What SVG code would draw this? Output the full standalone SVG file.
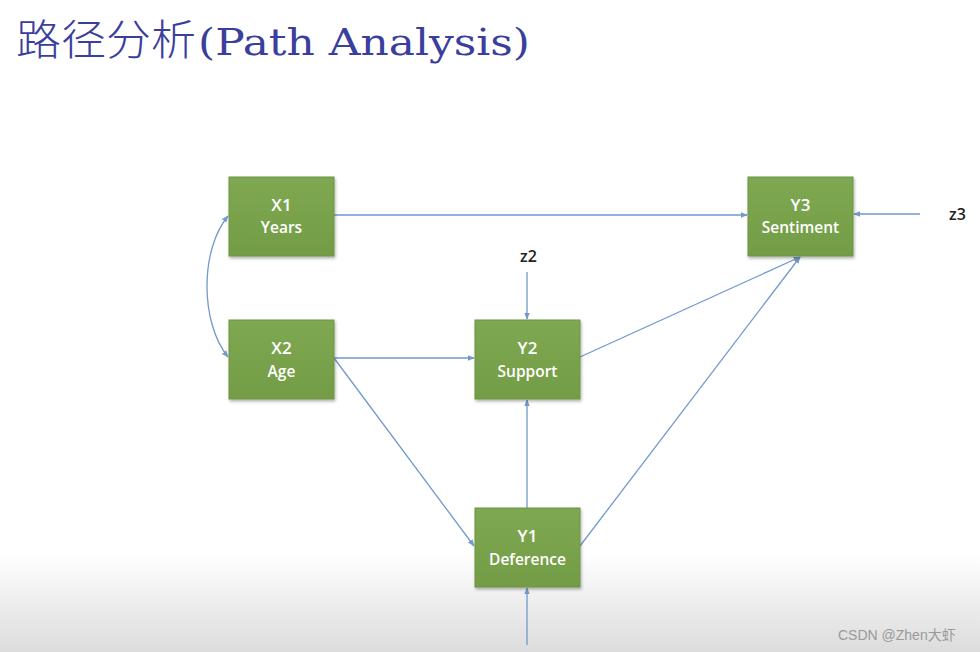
<svg xmlns="http://www.w3.org/2000/svg" width="980" height="652" viewBox="0 0 980 652">
<style>
.box{fill:url(#g);stroke:#6c9443;stroke-width:1}
.lbl{font-family:"Open Sans","Liberation Sans",sans-serif;font-weight:600;fill:#ffffff;text-anchor:middle}
.t1{font-size:17px}
.t2{font-size:15.5px}
.c{fill:none;stroke:#7199cc;stroke-width:1.3}
.z{font-family:"Open Sans","Liberation Sans",sans-serif;font-weight:600;font-size:16px;fill:#222}
</style>
<defs>
<linearGradient id="bg" x1="0" y1="0" x2="0" y2="1">
<stop offset="0" stop-color="#ffffff"/>
<stop offset="0.85" stop-color="#ffffff"/>
<stop offset="1" stop-color="#dcdcdc"/>
</linearGradient>
<linearGradient id="g" x1="0" y1="0" x2="0" y2="1">
<stop offset="0" stop-color="#7fa852"/>
<stop offset="1" stop-color="#739c46"/>
</linearGradient>
<filter id="sh" x="-10%" y="-10%" width="130%" height="130%">
<feDropShadow dx="1" dy="2" stdDeviation="1.5" flood-color="#000" flood-opacity="0.3"/>
</filter>
<marker id="a" viewBox="0 0 10 10" refX="9" refY="5" markerWidth="7" markerHeight="7" orient="auto-start-reverse" markerUnits="userSpaceOnUse">
<path d="M0,1 L10,5 L0,9 z" fill="#7199cc"/>
</marker>
</defs>
<rect x="0" y="0" width="980" height="652" fill="url(#bg)"/>
<text x="16" y="55" font-family="Noto Sans CJK SC,sans-serif" font-size="42" font-weight="300" fill="#3a3e9c" textLength="180" lengthAdjust="spacingAndGlyphs">路径分析</text>
<text x="198" y="55" font-family="DejaVu Serif,serif" font-size="38" fill="#3a3e9c" textLength="332" lengthAdjust="spacingAndGlyphs">(Path Analysis)</text>
<g id="connectors">
<line class="c" x1="334" y1="215" x2="747" y2="215" marker-end="url(#a)"/>
<line class="c" x1="920" y1="214" x2="854" y2="214" marker-end="url(#a)"/>
<line class="c" x1="527" y1="272" x2="527" y2="319" marker-end="url(#a)"/>
<line class="c" x1="334" y1="358" x2="474" y2="358" marker-end="url(#a)"/>
<line class="c" x1="334" y1="358" x2="474" y2="546" marker-end="url(#a)"/>
<line class="c" x1="527" y1="508" x2="527" y2="400" marker-end="url(#a)"/>
<line class="c" x1="580" y1="357" x2="800" y2="257" marker-end="url(#a)"/>
<line class="c" x1="580" y1="546" x2="800" y2="257" marker-end="url(#a)"/>
<line class="c" x1="527" y1="645" x2="527" y2="588" marker-end="url(#a)"/>
<path class="c" d="M228,216 C200,250 200,322 228,357" marker-start="url(#a)" marker-end="url(#a)"/>
</g>
<g id="X1"><rect class="box" x="229" y="177" width="105" height="79" filter="url(#sh)"/><text class="lbl t1" x="281.5" y="211">X1</text><text class="lbl t2" x="281.5" y="233">Years</text></g>
<g id="X2"><rect class="box" x="229" y="320" width="105" height="79" filter="url(#sh)"/><text class="lbl t1" x="281.5" y="354">X2</text><text class="lbl t2" x="281.5" y="377">Age</text></g>
<g id="Y2"><rect class="box" x="475" y="320" width="105" height="79" filter="url(#sh)"/><text class="lbl t1" x="527.5" y="354">Y2</text><text class="lbl t2" x="527.5" y="377">Support</text></g>
<g id="Y1"><rect class="box" x="475" y="508" width="105" height="79" filter="url(#sh)"/><text class="lbl t1" x="527.5" y="542">Y1</text><text class="lbl t2" x="527.5" y="565">Deference</text></g>
<g id="Y3"><rect class="box" x="748" y="177" width="105" height="79" filter="url(#sh)"/><text class="lbl t1" x="800.5" y="211">Y3</text><text class="lbl t2" x="800.5" y="233">Sentiment</text></g>
<text class="z" x="520" y="262">z2</text>
<text class="z" x="949" y="220">z3</text>
<text x="838" y="640" font-family="Liberation Sans,Noto Sans CJK SC,sans-serif" font-size="14" fill="#9a9a9a">CSDN @Zhen大虾</text>
</svg>
